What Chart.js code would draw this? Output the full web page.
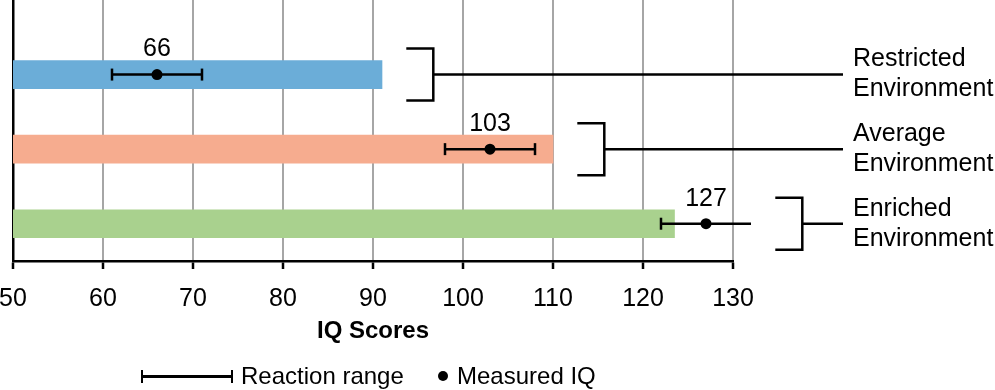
<!DOCTYPE html>
<html>
<head>
<meta charset="utf-8">
<script src="https://cdn.jsdelivr.net/npm/chart.js@4.4.1/dist/chart.umd.min.js"></script>
<style>
  html, body { margin: 0; padding: 0; background: #fff; }
  #wrap { position: relative; width: 995px; height: 390px; overflow: hidden; }
  #c { position: absolute; left: 0; top: 0; }
  .lg { position: absolute; font: 24px "Liberation Sans", Arial, sans-serif; color: #000; line-height: 28px; white-space: nowrap; }
  #sym-range { position: absolute; left: 141px; top: 370px; width: 92px; height: 13px; box-sizing: border-box; border-left: 2.5px solid #000; border-right: 2.5px solid #000; }
  #sym-range::after { content: ""; position: absolute; left: 0; right: 0; top: 5.25px; height: 2.5px; background: #000; }
  #sym-dot { position: absolute; left: 438px; top: 371px; width: 10px; height: 10px; border-radius: 50%; background: #000; }
</style>
</head>
<body>
<div id="wrap">
  <canvas id="c" width="995" height="390"></canvas>
  <div id="sym-range"></div>
  <div class="lg" style="left:241px; top:362px;">Reaction range</div>
  <div id="sym-dot"></div>
  <div class="lg" style="left:457px; top:362px;">Measured IQ</div>
</div>
<script>
// ---- data ----
const categories   = ['Restricted Environment', 'Average Environment', 'Enriched Environment'];
const categoryLines = [['Restricted', 'Environment'], ['Average', 'Environment'], ['Enriched', 'Environment']];
const barEnds      = [91, 110, 123.5];   // bar extent (IQ)
const rangeLow     = [61, 98, 122];      // reaction range low
const rangeHigh    = [71, 108, 132];     // reaction range high
const measuredIQ   = [66, 103, 127];     // measured IQ
const xMin = 50, xMax = 130, xStep = 10;
const axisTitle = 'IQ Scores';

// ---- styles ----
const barColors = ['#6BADD8', '#F6AC8F', '#A9D18E'];
const FONT = '"Liberation Sans", Arial, sans-serif';

Chart.defaults.font.family = FONT;
Chart.defaults.font.size = 25;
Chart.defaults.color = '#000';

const catPos = categories.map((c, i) => i + 1);

const datasets = [
  {
    type: 'bar',
    label: 'IQ',
    data: barEnds.map((v, i) => ({ x: v, y: catPos[i] })),
    backgroundColor: barColors,
    borderWidth: 0,
    barThickness: 28,
    order: 3,
    yAxisID: 'y'
  },
  ...rangeLow.map((lo, i) => ({
    type: 'line',
    label: 'Reaction range',
    data: [{ x: lo, y: catPos[i] }, { x: rangeHigh[i], y: catPos[i] }],
    borderColor: '#000',
    borderWidth: 2.5,
    fill: false,
    pointStyle: 'line',
    pointRotation: 90,
    pointRadius: 6,
    pointBorderWidth: 2.5,
    pointBorderColor: '#000',
    clip: false,
    order: 2,
    yAxisID: 'y'
  })),
  {
    type: 'line',
    label: 'Measured IQ',
    data: measuredIQ.map((v, i) => ({ x: v, y: catPos[i] })),
    showLine: false,
    pointStyle: 'circle',
    pointRadius: 5.5,
    pointBackgroundColor: '#000',
    pointBorderColor: '#000',
    pointBorderWidth: 0,
    clip: false,
    order: 1,
    yAxisID: 'y'
  }
];
const dotIndex = datasets.length - 1;

const annot = {
  id: 'annot',
  afterDatasetsDraw(chart) {
    const { ctx, chartArea } = chart;
    const x = chart.scales.x, y = chart.scales.y;
    ctx.save();
    // brackets + leader lines
    ctx.strokeStyle = '#000';
    ctx.lineWidth = 2.5;
    ctx.lineJoin = 'miter';
    categories.forEach((c, i) => {
      const anchor = Math.max(barEnds[i], rangeHigh[i]);
      const x1 = x.getPixelForValue(anchor + 2.7);
      const x2 = x.getPixelForValue(anchor + 5.7);
      const yc = y.getPixelForValue(catPos[i]);
      const h = 26;
      const xe = chartArea.right + 110;
      ctx.beginPath();
      ctx.moveTo(x1, yc - h); ctx.lineTo(x2, yc - h); ctx.lineTo(x2, yc + h); ctx.lineTo(x1, yc + h);
      ctx.moveTo(x2, yc); ctx.lineTo(xe, yc);
      ctx.stroke();
    });
    // value labels above the measured dots
    ctx.fillStyle = '#000';
    ctx.font = '25px ' + FONT;
    ctx.textAlign = 'center';
    ctx.textBaseline = 'middle';
    chart.getDatasetMeta(dotIndex).data.forEach((pt, i) => {
      ctx.fillText(String(measuredIQ[i]), pt.x, pt.y - 25);
    });
    // axis title
    ctx.font = 'bold 24px ' + FONT;
    ctx.fillText(axisTitle, (chartArea.left + chartArea.right) / 2, 331);
    ctx.restore();
  }
};

new Chart(document.getElementById('c'), {
  data: { datasets },
  plugins: [annot],
  options: {
    indexAxis: 'y',
    responsive: false,
    animation: false,
    devicePixelRatio: 1,
    layout: { autoPadding: false, padding: { left: 0, right: 0, top: 0, bottom: 59 } },
    plugins: { legend: { display: false }, tooltip: { enabled: false } },
    scales: {
      x: {
        type: 'linear', position: 'bottom', min: xMin, max: xMax,
        ticks: { stepSize: xStep, padding: 15, color: '#000', font: { size: 25 } },
        grid: {
          color: (ctx) => (ctx.tick && ctx.tick.value === xMin) ? '#000' : '#a6a6a6',
          lineWidth: 2, tickColor: '#000', tickLength: 8, tickWidth: 2.5, drawTicks: true
        },
        border: { color: '#000', width: 2.5 },
        afterFit: (s) => { s.height = 70; s.paddingLeft = 13; s.paddingRight = 0; }
      },
      y: {
        type: 'linear', position: 'left', min: 0, max: 3.5, reverse: true, offset: false,
        ticks: { display: false },
        grid: { display: false, drawTicks: false, offset: false },
        border: { display: true, color: '#000', width: 2.5 },
        afterFit: (s) => { s.width = 0; s.paddingTop = 0; s.paddingBottom = 0; }
      },
      y2: {
        type: 'linear', position: 'right', min: 0, max: 3.5, reverse: true, offset: false,
        grid: { display: false, drawTicks: false },
        border: { display: false },
        afterBuildTicks: (s) => { s.ticks = catPos.map(v => ({ value: v })); },
        afterFit: (s) => { s.width = 262; s.paddingTop = 0; s.paddingBottom = 0; },
        ticks: {
          padding: 120, autoSkip: false, color: '#000',
          font: { size: 25, lineHeight: 1.2 },
          callback: (v) => categoryLines[v - 1]
        }
      }
    }
  }
});
</script>
</body>
</html>
